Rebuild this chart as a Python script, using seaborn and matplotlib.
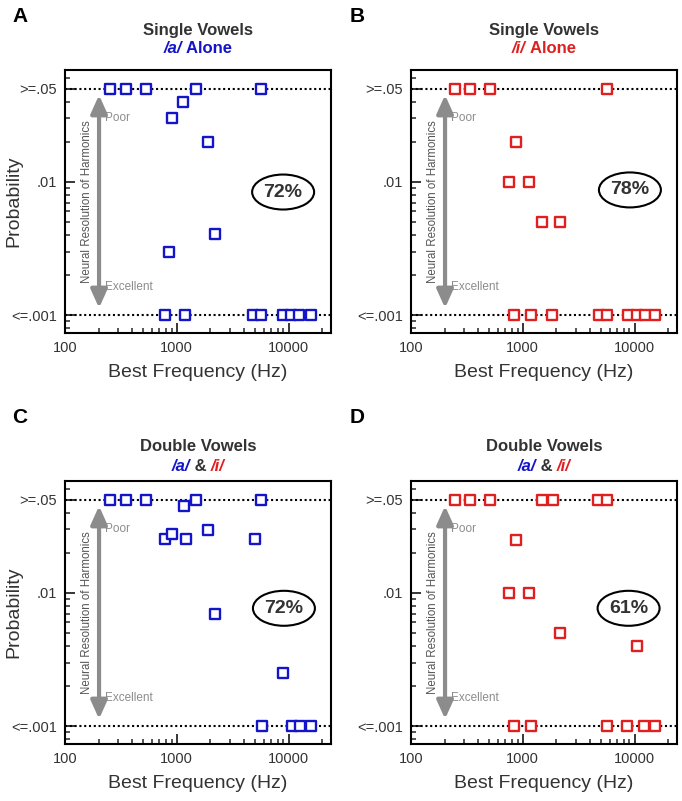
import matplotlib
matplotlib.use("Agg")
import matplotlib.pyplot as plt
import seaborn as sns
from matplotlib.patches import Ellipse
from matplotlib.ticker import FixedLocator, LogLocator, NullFormatter
from matplotlib.offsetbox import TextArea, HPacker, AnnotationBbox

# data (best frequency in Hz, probability)
a_alone_bf = [253, 352, 531, 1490, 5690, 1146, 908, 1905, 2188, 848,
              785, 1194, 4786, 5690, 8890, 10540, 12530, 15920]
a_alone_p = [0.05, 0.05, 0.05, 0.05, 0.05, 0.040, 0.030, 0.020, 0.0041, 0.0030,
             0.001, 0.001, 0.001, 0.001, 0.001, 0.001, 0.001, 0.001]

i_alone_bf = [248, 337, 509, 5650, 871, 759, 1146, 1479, 2158,
              836, 1180, 1841, 4853, 5650, 8810, 10490, 12450, 15280]
i_alone_p = [0.05, 0.05, 0.05, 0.05, 0.020, 0.010, 0.010, 0.005, 0.005,
             0.001, 0.001, 0.001, 0.001, 0.001, 0.001, 0.001, 0.001, 0.001]

a_double_bf = [253, 352, 531, 1490, 5690, 1156, 791, 908, 1211, 1918, 5024,
               2204, 8995, 5770, 10720, 12710, 15920]
a_double_p = [0.05, 0.05, 0.05, 0.05, 0.05, 0.0448, 0.0255, 0.0275, 0.0255, 0.0298, 0.0255,
              0.0070, 0.0025, 0.001, 0.001, 0.001, 0.001]

i_double_bf = [248, 337, 509, 1476, 1855, 4757, 5650, 871, 759, 1146, 2158, 10490,
               836, 1180, 5650, 8650, 12230, 15280]
i_double_p = [0.05, 0.05, 0.05, 0.05, 0.05, 0.05, 0.05, 0.0251, 0.010, 0.010, 0.0050, 0.0040,
              0.001, 0.001, 0.001, 0.001, 0.001, 0.001]

percents = ["72%", "78%", "72%", "61%"]
panel_letters = ["A", "B", "C", "D"]
y_ticks = [0.001, 0.01, 0.05]
y_ticklabels = ["<=.001", ".01", ">=.05"]
x_ticks = [100, 1000, 10000]
x_ticklabels = ["100", "1000", "10000"]

BLUE = "#1414c8"
RED = "#e02020"
DARK = "#333333"
GREY = "#8c8c8c"

sns.set_style("ticks")
plt.rcParams["font.family"] = ["Liberation Sans", "DejaVu Sans"]

fig = plt.figure(figsize=(6.82, 8.01), dpi=100)
W, H = 682, 801

def px_axes(left, top, width=266, height=263):
    return fig.add_axes([left / W, (H - top - height) / H, width / W, height / H])

ax_a = px_axes(65, 70)
ax_b = px_axes(411, 70)
ax_c = px_axes(65, 481)
ax_d = px_axes(411, 481)

panels = [
    (ax_a, a_alone_bf, a_alone_p, BLUE, "Single Vowels",
     [("/a/", BLUE, "italic"), (" Alone", BLUE, "normal")], (0.82, 0.536)),
    (ax_b, i_alone_bf, i_alone_p, RED, "Single Vowels",
     [("/i/", RED, "italic"), (" Alone", RED, "normal")], (0.823, 0.544)),
    (ax_c, a_double_bf, a_double_p, BLUE, "Double Vowels",
     [("/a/", BLUE, "italic"), (" & ", DARK, "normal"), ("/i/", RED, "italic")], (0.823, 0.516)),
    (ax_d, i_double_bf, i_double_p, RED, "Double Vowels",
     [("/a/", BLUE, "italic"), (" & ", DARK, "normal"), ("/i/", RED, "italic")], (0.818, 0.516)),
]

for k, (ax, bf, p, col, title1, title2, ell_xy) in enumerate(panels):
    # dotted reference lines at the two extreme categories
    ax.axhline(0.05, color="black", ls=(0, (1, 1.3)), lw=1.5, zorder=1)
    ax.axhline(0.001, color="black", ls=(0, (1, 1.3)), lw=1.5, zorder=1)

    sns.scatterplot(x=bf, y=p, ax=ax, marker="s", s=50, color="white",
                    edgecolor=col, linewidth=1.7, zorder=3, clip_on=False)

    ax.set_xscale("log")
    ax.set_yscale("log")
    ax.set_xlim(100, 24000)
    ax.set_ylim(0.000734, 0.0693)

    ax.xaxis.set_major_locator(FixedLocator(x_ticks))
    ax.set_xticklabels(x_ticklabels)
    ax.xaxis.set_minor_locator(LogLocator(base=10, subs=range(2, 10)))
    ax.xaxis.set_minor_formatter(NullFormatter())
    ax.yaxis.set_major_locator(FixedLocator(y_ticks))
    ax.set_yticklabels(y_ticklabels)
    ax.yaxis.set_minor_locator(LogLocator(base=10, subs=range(2, 10)))
    ax.yaxis.set_minor_formatter(NullFormatter())

    ax.tick_params(which="major", direction="in", length=7, width=1.3,
                   labelsize=10.5, labelcolor=DARK, pad=6)
    ax.tick_params(which="minor", direction="in", length=3.5, width=1.1)
    ax.tick_params(top=False, right=False, which="both")
    for sp in ax.spines.values():
        sp.set_visible(True)
        sp.set_linewidth(1.5)
        sp.set_color("black")

    ax.set_xlabel("Best Frequency (Hz)", fontsize=14, color=DARK, labelpad=6)
    if k % 2 == 0:
        ax.set_ylabel("Probability", fontsize=14, color=DARK)
        ax.yaxis.set_label_coords(-0.162, 0.5)

    # resolution arrow and labels
    ax.annotate("", xy=(0.128, 0.905), xytext=(0.128, 0.095), xycoords="axes fraction",
                arrowprops=dict(arrowstyle="<|-|>,head_length=1.0,head_width=0.45",
                                mutation_scale=11, color=GREY, lw=3,
                                shrinkA=0, shrinkB=0))
    ax.text(0.083, 0.5, "Neural Resolution of Harmonics", transform=ax.transAxes,
            rotation=90, ha="center", va="center", fontsize=8.3, color="#555555")
    ax.text(0.152, 0.817, "Poor", transform=ax.transAxes, ha="left", va="center",
            fontsize=8.5, color=GREY)
    ax.text(0.152, 0.175, "Excellent", transform=ax.transAxes, ha="left", va="center",
            fontsize=8.5, color=GREY)

    # percentage in an ellipse
    ax.add_patch(Ellipse(ell_xy, 0.233, 0.133, transform=ax.transAxes,
                         fill=False, edgecolor="black", lw=1.5, zorder=4))
    ax.text(ell_xy[0], ell_xy[1], percents[k], transform=ax.transAxes, ha="center",
            va="center", fontsize=14, fontweight="bold", color=DARK, zorder=5)

    # two-line title, second line in colours
    top_y = 1.152 if k < 2 else 1.133
    sub_y = 1.080 if k < 2 else 1.057
    ax.text(0.5, top_y, title1, transform=ax.transAxes, ha="center", va="center",
            fontsize=12, fontweight="bold", color=DARK)
    parts = [TextArea(t, textprops=dict(color=c, fontsize=12, fontweight="bold",
                                        fontstyle=st)) for t, c, st in title2]
    box = HPacker(children=parts, pad=0, sep=0, align="baseline")
    ax.add_artist(AnnotationBbox(box, (0.5, sub_y), xycoords="axes fraction",
                                 frameon=False, box_alignment=(0.5, 0.5), pad=0,
                                 annotation_clip=False))

# panel letters
for letter, (x, y) in zip(panel_letters, [(20, 17), (357, 17), (20, 417), (357, 417)]):
    fig.text(x / W, 1 - y / H, letter, ha="center", va="center", fontsize=15,
             fontweight="bold", color="black")

fig.savefig("out.png", dpi=100)
